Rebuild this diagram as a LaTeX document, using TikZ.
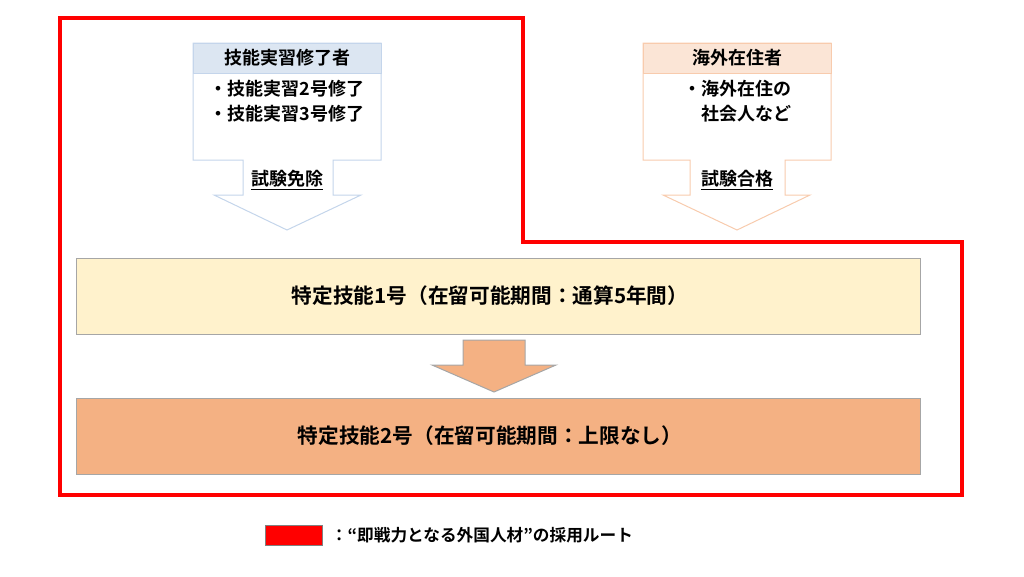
\documentclass[tikz,border=0pt]{standalone}
\usepackage{fontspec}
\setmainfont{Noto Sans CJK JP}[BoldFont={* Bold}]
\tikzset{every picture/.style={line width=0.75pt}}
\definecolor{hdblue}{RGB}{220,230,242}
\definecolor{lnblue}{RGB}{196,213,235}
\definecolor{hdpeach}{RGB}{251,229,214}
\definecolor{lnpeach}{RGB}{248,203,173}
\definecolor{paleyel}{RGB}{255,242,204}
\definecolor{salmon}{RGB}{244,177,131}
\begin{document}
\begin{tikzpicture}[x=0.75pt,y=0.75pt,yscale=-1,xscale=1,font=\bfseries]
\useasboundingbox (0,0) rectangle (1024,576);

%Route outline
\draw [color=red, line width=3pt] (60,18) -- (523,18) -- (523,242) -- (962,242) -- (962,495) -- (60,495) -- cycle ;

%Callout left
\draw [color=lnblue, fill=white] (193,43) -- (381,43) -- (381,160) -- (333,160) -- (333,195) -- (361,195) -- (287,230) -- (214,195) -- (243,195) -- (243,160) -- (193,160) -- cycle ;
\draw [color=lnblue, fill=hdblue] (193,43) rectangle (381,73) ;
%Callout right
\draw [color=lnpeach, fill=white] (643,43) -- (831,43) -- (831,160) -- (785,160) -- (785,195) -- (810,195) -- (737,230) -- (663,195) -- (690,195) -- (690,160) -- (643,160) -- cycle ;
\draw [color=lnpeach, fill=hdpeach] (643,43) rectangle (831,73) ;

%Stage boxes
\draw [color=gray!70, fill=paleyel] (76,258) rectangle (920,334) ;
\draw [color=gray!70, fill=salmon] (463,340) -- (525,340) -- (525,365) -- (556,365) -- (494,392) -- (432,365) -- (463,365) -- cycle ;
\draw [color=gray!70, fill=salmon] (76,398) rectangle (920,474) ;

%Legend
\draw [color=gray, fill=red] (265,525) rectangle (322,545) ;

% Text Node
\draw (287,58) node [font=\bfseries\fontsize{13.5}{16}\selectfont] {技能実習修了者};
% Text Node
\draw (287,101) node [align=left, font=\bfseries\fontsize{13.5}{19}\selectfont] {・技能実習2号修了\\・技能実習3号修了};
% Text Node
\draw (287,180) node [font=\bfseries\fontsize{13.5}{16}\selectfont] {\underline{試験免除}};
% Text Node
\draw (737,58) node [font=\bfseries\fontsize{13.5}{16}\selectfont] {海外在住者};
% Text Node
\draw (737,101) node [align=left, font=\bfseries\fontsize{13.5}{19}\selectfont] {・海外在住の\\\hphantom{・}社会人など};
% Text Node
\draw (737,180) node [font=\bfseries\fontsize{13.5}{16}\selectfont] {\underline{試験合格}};
% Text Node
\draw (490,296) node [font=\bfseries\fontsize{15.5}{18}\selectfont] {特定技能1号（在留可能期間：通算5年間）};
% Text Node
\draw (490,436) node [font=\bfseries\fontsize{15.5}{18}\selectfont] {特定技能2号（在留可能期間：上限なし）};
% Text Node
\draw (326,535) node [anchor=west, font=\bfseries\fontsize{12.5}{15}\selectfont] {：“即戦力となる外国人材”の採用ルート};

\end{tikzpicture}
\end{document}
